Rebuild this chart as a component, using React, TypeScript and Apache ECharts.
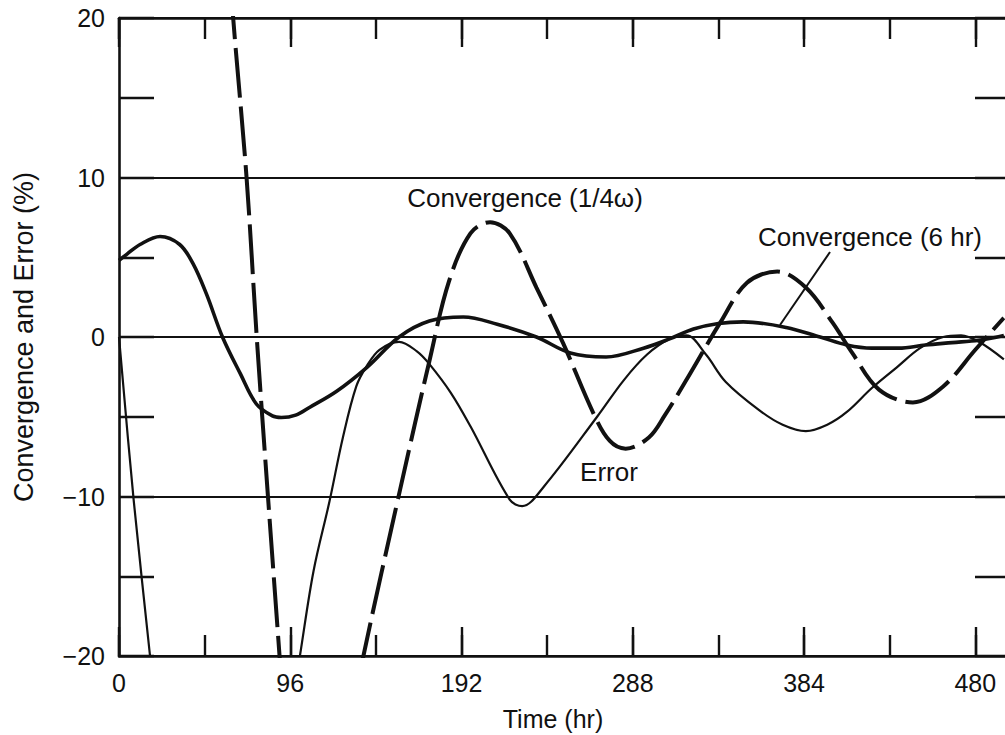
import React, { useEffect, useRef } from "react";
import * as echarts from "echarts";

// Time (hr) tick labels and value range
const xTickLabels = [0, 96, 192, 288, 384, 480];
const yTickLabels = [-20, -10, 0, 10, 20];

// Error (thin solid) – two visible pieces (it dips below -20 between them)
const errorPart1: number[][] = [[0, 0], [8.2, -10.2], [17.4, -20], [18.6, -21.4]];
const errorPart2: number[][] = [
  [100.2, -20.8], [101.4, -20], [109, -14.7], [118, -10.3], [125.5, -6.3], [133, -3.1],
  [139, -1.8], [146, -0.8], [157, -0.3], [167, -0.9], [174, -1.7], [186, -3.5],
  [197, -5.6], [219, -10.2], [226, -10.6], [238, -9.4], [268, -5.0], [283, -2.7],
  [296, -1.1], [309, -0.1], [318, 0.1], [329, -1.1], [340, -2.8], [359, -4.6],
  [372, -5.5], [385, -5.9], [397, -5.5], [408, -4.7], [422, -3.2], [436, -1.9],
  [449, -0.7], [462, 0], [472, 0.1], [482, -0.3], [496, -1.4],
];

// Convergence (6 hr) – thick solid
const conv6hr: number[][] = [
  [0, 4.8], [4.5, 5.2], [11.8, 5.8], [23, 6.3], [34, 5.8], [41.5, 4.6], [49, 2.7],
  [58, 0], [68, -2.3], [77, -4.2], [86, -4.95], [91, -5.05], [99, -4.9], [107, -4.4],
  [122, -3.4], [139, -1.9], [157, 0], [174, 1.0], [193, 1.25], [212, 0.8], [234, 0],
  [253, -1.0], [273, -1.25], [294, -0.7], [309, -0.1], [322, 0.5], [336, 0.85],
  [350, 0.95], [374, 0.6], [393, 0], [408, -0.5], [422, -0.7], [437, -0.7],
  [452, -0.5], [467, -0.35], [482, -0.2], [496, 0.1],
];

// Convergence (1/4ω) – thick dashed, two visible pieces
const convQuarterPart1: number[][] = [[58, 29.2], [64, 20], [71.5, 10], [77.2, 0], [83.5, -10], [90, -20], [91, -21.5]];
const convQuarterPart2: number[][] = [
  [136, -21], [137, -20], [157.5, -9.6], [174, -1.5], [185, 3.5], [197, 6.5],
  [208, 7.2], [219, 6.5], [234, 3.1], [249, -0.4], [266, -4.8], [275, -6.5],
  [284, -7.0], [297, -6.3], [306, -4.9], [318, -2.7], [337, 0.9], [352, 3.4],
  [369, 4.1], [385, 3.1], [400, 0.9], [411, -1.0], [426, -3.3], [445, -4.1],
  [462, -3.1], [480, -0.8], [496, 1.2],
];

const FONT = "'Liberation Sans', Arial, Helvetica, sans-serif";
const INK = "#111";

export default function App() {
  const ref = useRef<HTMLDivElement | null>(null);

  useEffect(() => {
    if (!ref.current) return;
    const chart = echarts.init(ref.current, null, { renderer: "svg" });

    const xMin = xTickLabels[0];
    const xMax = 500;
    const yMin = yTickLabels[0];
    const yMax = yTickLabels[yTickLabels.length - 1];

    const baseX = (position: string, interval: number, len: number, showLine: boolean, labels: boolean, extra: any = {}) => ({
      type: "value",
      position,
      min: xMin,
      max: xMax,
      interval,
      gridIndex: 0,
      axisLine: { show: showLine, onZero: false, lineStyle: { color: INK, width: 2.6 } },
      axisTick: { show: true, inside: true, length: len, lineStyle: { color: INK, width: 2.4 } },
      axisLabel: labels
        ? {
            show: true,
            margin: 14,
            color: INK,
            fontFamily: FONT,
            fontSize: 25,
            showMaxLabel: false,
            formatter: (v: number) => (xTickLabels.includes(v) ? String(v) : ""),
          }
        : { show: false },
      splitLine: { show: false },
      ...extra,
    });

    const baseY = (position: string, interval: number, len: number, showLine: boolean, labels: boolean, extra: any = {}) => ({
      type: "value",
      position,
      min: yMin,
      max: yMax,
      interval,
      gridIndex: 0,
      axisLine: { show: showLine, onZero: false, lineStyle: { color: INK, width: 2.6 } },
      axisTick: len > 0 ? { show: true, inside: true, length: len, lineStyle: { color: INK, width: 2.4 } } : { show: false },
      axisLabel: labels
        ? {
            show: true,
            margin: 14,
            color: INK,
            fontFamily: FONT,
            fontSize: 25,
            formatter: (v: number) => (v < 0 ? "\u2212" + Math.abs(v) : String(v)),
          }
        : { show: false },
      splitLine: { show: false },
      ...extra,
    });

    const lineSeries = (data: number[][], width: number, dashed: boolean) => ({
      type: "line",
      xAxisIndex: 0,
      yAxisIndex: 0,
      data,
      smooth: 0.35,
      showSymbol: false,
      symbol: "none",
      clip: true,
      silent: true,
      lineStyle: { color: INK, width, type: dashed ? [50, 9] : "solid", cap: "butt" },
    });

    const annoFont = `26px ${FONT}`;

    chart.setOption({
      animation: false,
      backgroundColor: "#ffffff",
      grid: { left: 119, top: 18, width: 892, height: 638, containLabel: false, outerBoundsMode: "none" },
      xAxis: [
        baseX("bottom", 96, 29, true, true, {
          name: "Time (hr)",
          nameLocation: "middle",
          nameGap: 50,
          nameTextStyle: { color: INK, fontFamily: FONT, fontSize: 25, padding: [0, 24, 0, 0] },
        }),
        baseX("bottom", 48, 21, false, false),
        baseX("top", 96, 29, true, false),
        baseX("top", 48, 21, false, false),
      ],
      yAxis: [
        baseY("left", 10, 0, true, true, {
          name: "Convergence and Error (%)",
          nameLocation: "middle",
          nameGap: 82,
          nameRotate: 90,
          nameTextStyle: { color: INK, fontFamily: FONT, fontSize: 27 },
          splitLine: { show: true, lineStyle: { color: INK, width: 2 } },
        }),
        baseY("left", 5, 35, false, false),
        baseY("right", 5, 36, false, false),
      ],
      series: [
        lineSeries(errorPart1, 2.2, false),
        lineSeries(errorPart2, 2.2, false),
        lineSeries(conv6hr, 3.6, false),
        lineSeries(convQuarterPart1, 4, true),
        lineSeries(convQuarterPart2, 4, true),
      ],
      graphic: [
        {
          type: "text",
          x: 525,
          y: 198,
          style: { text: "Convergence (1/4\u03c9)", fill: INK, font: annoFont, align: "center", verticalAlign: "middle" },
        },
        {
          type: "text",
          x: 609,
          y: 472,
          style: { text: "Error", fill: INK, font: annoFont, align: "center", verticalAlign: "middle" },
        },
        {
          type: "text",
          x: 870,
          y: 237,
          style: { text: "Convergence (6 hr)", fill: INK, font: annoFont, align: "center", verticalAlign: "middle" },
        },
        {
          type: "line",
          shape: { x1: 830, y1: 252, x2: 780, y2: 325 },
          style: { stroke: INK, lineWidth: 2 },
        },
      ],
    });

    return () => chart.dispose();
  }, []);

  return (
    <div
      ref={ref}
      style={{ position: "absolute", left: 0, top: 0, width: 1005, height: 735, background: "#fff" }}
    />
  );
}
